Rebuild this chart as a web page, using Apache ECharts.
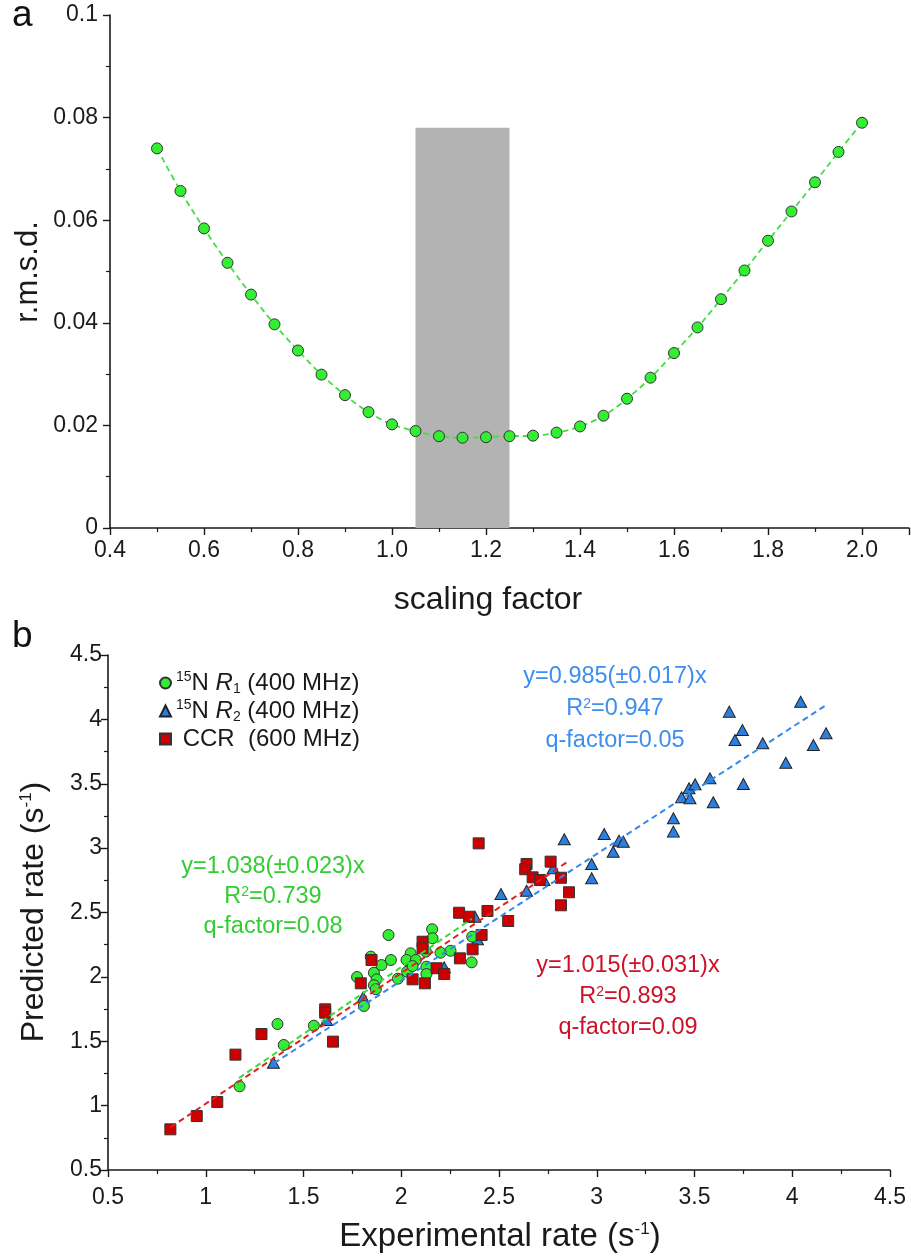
<!DOCTYPE html>
<html>
<head>
<meta charset="utf-8">
<script src="https://cdn.jsdelivr.net/npm/echarts@6/dist/echarts.min.js"></script>
<style>
html,body{margin:0;padding:0;background:#fff;}
#chart{width:911px;height:1257px;}
</style>
</head>
<body>
<div id="chart"></div>
<script>
// ---------- Panel a data ----------
const scalingFactor = [0.5,0.55,0.6,0.65,0.7,0.75,0.8,0.85,0.9,0.95,1.0,1.05,1.1,1.15,1.2,1.25,1.3,1.35,1.4,1.45,1.5,1.55,1.6,1.65,1.7,1.75,1.8,1.85,1.9,1.95,2.0];
const rmsd = [0.0740,0.0657,0.0584,0.0517,0.0455,0.0397,0.0346,0.0299,0.0259,0.0226,0.0202,0.0189,0.0179,0.0176,0.0177,0.0179,0.0180,0.0186,0.0198,0.0219,0.0252,0.0293,0.0341,0.0391,0.0446,0.0502,0.0560,0.0617,0.0674,0.0733,0.0790];
const shadeRange = [1.05, 1.25];
const shadeTop = 0.078;
const xTicksA = [0.4, 2.1, 0.2];   // min, max, interval
const yTicksA = [0, 0.1, 0.02];

// ---------- Panel b data ----------
const r1X = [1.173,1.367,1.399,1.553,1.774,1.809,1.844,1.860,1.874,1.860,1.870,1.899,1.935,1.947,1.983,2.030,2.048,2.027,2.075,2.058,2.126,2.158,2.160,2.129,2.129,2.201,2.252,2.360,2.363];
const r1Y = [1.150,1.634,1.471,1.621,1.999,1.774,2.157,2.032,1.981,1.935,1.904,2.092,2.325,2.131,1.986,2.040,2.183,2.131,2.131,2.084,2.196,2.370,2.300,2.079,2.022,2.188,2.203,2.113,2.312];
const r2X = [1.346,1.618,1.805,2.220,2.390,2.377,2.510,2.641,2.730,2.777,2.834,2.974,2.974,3.084,3.038,3.114,3.136,3.392,3.392,3.434,3.477,3.472,3.503,3.579,3.596,3.750,3.678,3.745,3.707,3.849,3.967,4.043,4.108,4.173];
const r2Y = [1.333,1.665,1.841,2.074,2.292,2.467,2.644,2.669,2.752,2.843,3.069,2.766,2.877,2.972,3.110,3.058,3.050,3.128,3.232,3.395,3.387,3.465,3.496,3.542,3.356,3.498,4.060,3.917,3.840,3.814,3.663,4.137,3.801,3.892];
const ccrX = [0.819,0.954,1.059,1.152,1.285,1.611,1.611,1.651,1.793,1.848,2.058,2.109,2.109,2.121,2.181,2.220,2.300,2.365,2.411,2.296,2.347,2.441,2.547,2.396,2.641,2.634,2.672,2.709,2.764,2.817,2.858,2.817];
const ccrY = [0.816,0.919,1.028,1.396,1.556,1.748,1.722,1.497,1.950,2.131,1.981,2.273,2.222,1.950,2.067,2.022,2.144,2.214,2.325,2.498,2.467,2.512,2.434,3.037,2.877,2.836,2.773,2.752,2.895,2.770,2.657,2.556];
// fit line end points (x, y)
const fitR1 = [[1.17,1.214],[2.36,2.450]];
const fitR2 = [[1.35,1.330],[4.17,4.107]];
const fitCCR = [[0.82,0.832],[2.86,2.903]];
const xTicksB = [0.5, 4.5, 0.5];
const yTicksB = [0.5, 4.5, 0.5];

const legendNames = ['15N R1 (400 MHz)','15N R2 (400 MHz)','CCR (600 MHz)'];
const legendRich = ['{sup|15}N {it|R}{sub|1} (400 MHz)','{sup|15}N {it|R}{sub|2} (400 MHz)',' CCR  (600 MHz)'];
const fitTexts = {
  r2: ['y=0.985(\u00b10.017)x','R{sup|2}=0.947','q-factor=0.05'],
  r1: ['y=1.038(\u00b10.023)x','R{sup|2}=0.739','q-factor=0.08'],
  ccr:['y=1.015(\u00b10.031)x','R{sup|2}=0.893','q-factor=0.09']
};

const FONT = '"Liberation Sans", Arial, sans-serif';
const GREEN = '#33ee33', BLUE = '#2a7fe0', RED = '#cc0000';
const zip = (a,b) => a.map((v,i)=>[v,b[i]]);

const chart = echarts.init(document.getElementById('chart'));

function axisCommon(fs, margin) {
  return {
    axisLine:{show:true, onZero:false, lineStyle:{color:'#1a1a1a', width:1.6}},
    axisTick:{show:true, inside:false, length:7, lineStyle:{color:'#1a1a1a', width:1.4}},
    minorTick:{show:true, splitNumber:2, length:4, lineStyle:{color:'#1a1a1a', width:1.2}},
    splitLine:{show:false},
    axisLabel:{color:'#1a1a1a', fontSize:fs, fontFamily:FONT, margin:margin}
  };
}

function textLines(lines, cx, cy0, gap, color) {
  return lines.map((t,i)=>({
    type:'text', x:cx, y:cy0+i*gap,
    style:{text:t, fill:color, font:'23.5px '+FONT, textAlign:'center', textVerticalAlign:'middle',
      rich:{sup:{fontSize:14, fill:color, verticalAlign:'top', fontFamily:FONT}}}
  }));
}

const option = {
  animation:false,
  backgroundColor:'#fff',
  grid:[
    {left:110, top:15, width:799, height:513, containLabel:false, outerBoundsMode:'none'},
    {left:108, top:655, width:782, height:515, containLabel:false, outerBoundsMode:'none'}
  ],
  xAxis:[
    Object.assign(axisCommon(23,11), {type:'value', gridIndex:0, min:xTicksA[0], max:xTicksA[1], interval:xTicksA[2]}),
    Object.assign(axisCommon(23,16), {type:'value', gridIndex:1, min:xTicksB[0], max:xTicksB[1], interval:xTicksB[2]})
  ],
  yAxis:[
    Object.assign(axisCommon(23,12), {type:'value', gridIndex:0, min:yTicksA[0], max:yTicksA[1], interval:yTicksA[2]}),
    Object.assign(axisCommon(23,6), {type:'value', gridIndex:1, min:yTicksB[0], max:yTicksB[1], interval:yTicksB[2]})
  ],
  legend:{
    show:true, orient:'vertical', left:154, top:665, itemGap:2, itemWidth:11, itemHeight:11,
    data:[{name:legendNames[0], icon:'circle'},{name:legendNames[1], icon:'triangle'},{name:legendNames[2], icon:'rect'}],
    formatter:(n)=>legendRich[legendNames.indexOf(n)],
    textStyle:{fontSize:24, fontFamily:FONT, color:'#1a1a1a', lineHeight:26,
      rich:{sup:{fontSize:14, verticalAlign:'top', fontFamily:FONT, color:'#1a1a1a'},
            sub:{fontSize:14, verticalAlign:'bottom', fontFamily:FONT, color:'#1a1a1a'},
            it:{fontSize:24, fontStyle:'italic', fontFamily:FONT, color:'#1a1a1a', lineHeight:26}}}
  },
  graphic:[
    {type:'text', x:12, y:-3, style:{text:'a', font:'37px '+FONT, fill:'#111'}},
    {type:'text', x:12, y:618, style:{text:'b', font:'37px '+FONT, fill:'#111'}},
    {type:'text', x:28, y:272, rotation:Math.PI/2, style:{text:'r.m.s.d.', font:'31px '+FONT, fill:'#1a1a1a', textAlign:'center', textVerticalAlign:'middle'}},
    {type:'text', x:488, y:600, style:{text:'scaling factor', font:'32px '+FONT, fill:'#1a1a1a', textAlign:'center', textVerticalAlign:'middle'}},
    {type:'text', x:34, y:912, rotation:Math.PI/2, style:{text:'Predicted rate (s{sup|-1})', font:'32px '+FONT, fill:'#1a1a1a', textAlign:'center', textVerticalAlign:'middle',
      rich:{sup:{fontSize:17, verticalAlign:'top', fontFamily:FONT, fill:'#1a1a1a'}}}},
    {type:'text', x:500, y:1237, style:{text:'Experimental rate (s{sup|-1})', font:'33px '+FONT, fill:'#1a1a1a', textAlign:'center', textVerticalAlign:'middle',
      rich:{sup:{fontSize:17, verticalAlign:'top', fontFamily:FONT, fill:'#1a1a1a'}}}}
  ].concat(textLines(fitTexts.r2, 615, 677, 32, '#3d8ef0'))
   .concat(textLines(fitTexts.r1, 273, 867, 30, '#33cc33'))
   .concat(textLines(fitTexts.ccr, 628, 966, 31, '#cc1128')),
  series:[
    {type:'line', xAxisIndex:0, yAxisIndex:0, data:[], z:1, silent:true,
      markArea:{silent:true, itemStyle:{color:'#b3b3b3'}, data:[[{xAxis:shadeRange[0], yAxis:0},{xAxis:shadeRange[1], yAxis:shadeTop}]]}},
    {type:'line', name:'rmsd', xAxisIndex:0, yAxisIndex:0, z:3, data:zip(scalingFactor, rmsd), smooth:0.4,
      symbol:'circle', symbolSize:11, showAllSymbol:true,
      lineStyle:{color:'#44dd44', width:1.8, type:[6,4]},
      itemStyle:{color:GREEN, borderColor:'#333', borderWidth:1}},
    {type:'scatter', name:legendNames[1], xAxisIndex:1, yAxisIndex:1, z:3, symbol:'triangle', symbolSize:[12,11],
      data:zip(r2X, r2Y), itemStyle:{color:BLUE, borderColor:'#222', borderWidth:1, opacity:1}},
    {type:'scatter', name:legendNames[0], xAxisIndex:1, yAxisIndex:1, z:4, symbol:'circle', symbolSize:11,
      data:zip(r1X, r1Y), itemStyle:{color:GREEN, borderColor:'#333', borderWidth:1, opacity:1}},
    {type:'scatter', name:legendNames[2], xAxisIndex:1, yAxisIndex:1, z:5, symbol:'rect', symbolSize:11,
      data:zip(ccrX, ccrY), itemStyle:{color:RED, borderColor:'#333', borderWidth:1, opacity:1}},
    {type:'line', xAxisIndex:1, yAxisIndex:1, z:6, data:fitR1, symbol:'none', lineStyle:{color:'#33dd33', width:2, type:[6,4]}, silent:true},
    {type:'line', xAxisIndex:1, yAxisIndex:1, z:6, data:fitR2, symbol:'none', lineStyle:{color:'#3388ee', width:2, type:[6,4]}, silent:true},
    {type:'line', xAxisIndex:1, yAxisIndex:1, z:6, data:fitCCR, symbol:'none', lineStyle:{color:'#dd2222', width:2, type:[6,4]}, silent:true}
  ]
};
option.xAxis[0].axisLabel.formatter = v => v.toFixed(1);
option.xAxis[0].axisLabel.showMaxLabel = false;
chart.setOption(option);
</script>
</body>
</html>
